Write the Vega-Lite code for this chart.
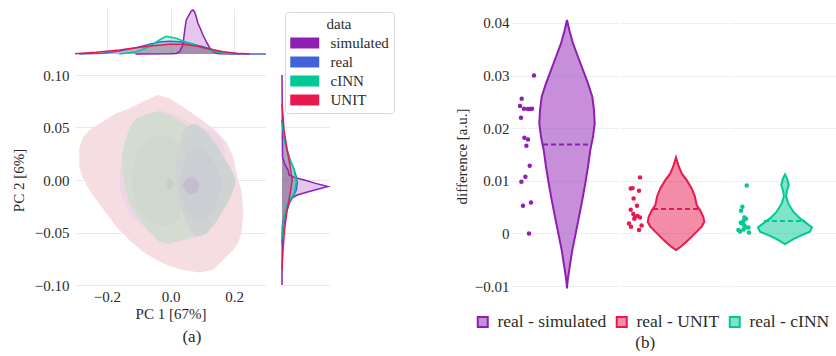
{
  "$schema": "https://vega.github.io/schema/vega-lite/v6.json",
  "padding": {"left": 11, "top": 6, "right": 0, "bottom": 0},
  "background": "white",
  "config": {
    "view": {"stroke": null},
    "font": "Liberation Serif",
    "axis": {"labelFont": "Liberation Serif", "titleFont": "Liberation Serif", "labelColor": "#2b2b2b", "titleColor": "#2b2b2b", "titleFontWeight": "normal", "labelFontSize": 15, "titleFontSize": 15, "ticks": false, "domain": false},
    "legend": {"labelFont": "Liberation Serif", "titleFont": "Liberation Serif", "labelColor": "#2b2b2b", "titleColor": "#2b2b2b", "titleFontWeight": "normal"},
    "title": {"font": "Liberation Serif", "fontWeight": "normal", "color": "#2b2b2b", "fontSize": 17}
  },
  "datasets": {
    "topm": [
      {"data": "simulated", "x": -0.11, "d": 0},
      {"data": "simulated", "x": 0.0, "d": 0.3},
      {"data": "simulated", "x": 0.0179, "d": 0.5},
      {"data": "simulated", "x": 0.0284, "d": 2.3},
      {"data": "simulated", "x": 0.0389, "d": 9},
      {"data": "simulated", "x": 0.0441, "d": 22.3},
      {"data": "simulated", "x": 0.0494, "d": 34},
      {"data": "simulated", "x": 0.0578, "d": 39},
      {"data": "simulated", "x": 0.0651, "d": 43},
      {"data": "simulated", "x": 0.0704, "d": 44},
      {"data": "simulated", "x": 0.0756, "d": 42.3},
      {"data": "simulated", "x": 0.0809, "d": 37.3},
      {"data": "simulated", "x": 0.0861, "d": 30.7},
      {"data": "simulated", "x": 0.0935, "d": 25.7},
      {"data": "simulated", "x": 0.1019, "d": 19},
      {"data": "simulated", "x": 0.1124, "d": 12.3},
      {"data": "simulated", "x": 0.1229, "d": 6.3},
      {"data": "simulated", "x": 0.1334, "d": 2.3},
      {"data": "simulated", "x": 0.1439, "d": 0.7},
      {"data": "simulated", "x": 0.1544, "d": 0.3},
      {"data": "simulated", "x": 0.22, "d": 0},
      {"data": "real", "x": -0.2867, "d": 0},
      {"data": "real", "x": -0.2132, "d": 0.7},
      {"data": "real", "x": -0.1607, "d": 3},
      {"data": "real", "x": -0.1082, "d": 6.3},
      {"data": "real", "x": -0.0662, "d": 9.7},
      {"data": "real", "x": -0.0347, "d": 12},
      {"data": "real", "x": -0.0032, "d": 12.7},
      {"data": "real", "x": 0.0284, "d": 12.3},
      {"data": "real", "x": 0.0599, "d": 10.7},
      {"data": "real", "x": 0.1019, "d": 7.3},
      {"data": "real", "x": 0.1439, "d": 3.3},
      {"data": "real", "x": 0.1859, "d": 0.7},
      {"data": "real", "x": 0.2279, "d": 0.1},
      {"data": "real", "x": 0.3, "d": 0},
      {"data": "cINN", "x": -0.1607, "d": 0},
      {"data": "cINN", "x": -0.1082, "d": 2.3},
      {"data": "cINN", "x": -0.0662, "d": 7.3},
      {"data": "cINN", "x": -0.0347, "d": 14},
      {"data": "cINN", "x": -0.0137, "d": 17.7},
      {"data": "cINN", "x": -0.0032, "d": 17},
      {"data": "cINN", "x": 0.0179, "d": 15.7},
      {"data": "cINN", "x": 0.0389, "d": 13},
      {"data": "cINN", "x": 0.0704, "d": 9.7},
      {"data": "cINN", "x": 0.1019, "d": 6.3},
      {"data": "cINN", "x": 0.1334, "d": 3},
      {"data": "cINN", "x": 0.1649, "d": 0.7},
      {"data": "cINN", "x": 0.1964, "d": 0},
      {"data": "UNIT", "x": -0.3, "d": 0.3},
      {"data": "UNIT", "x": -0.2342, "d": 1.7},
      {"data": "UNIT", "x": -0.1607, "d": 4},
      {"data": "UNIT", "x": -0.1082, "d": 6.3},
      {"data": "UNIT", "x": -0.0557, "d": 8.3},
      {"data": "UNIT", "x": -0.0032, "d": 9.7},
      {"data": "UNIT", "x": 0.0389, "d": 9.7},
      {"data": "UNIT", "x": 0.0809, "d": 8},
      {"data": "UNIT", "x": 0.1229, "d": 5},
      {"data": "UNIT", "x": 0.1649, "d": 2.3},
      {"data": "UNIT", "x": 0.2069, "d": 0.7},
      {"data": "UNIT", "x": 0.2489, "d": 0}
    ],
    "rightm": [
      {"data": "simulated", "y": -0.1, "d": 0},
      {"data": "simulated", "y": -0.0444, "d": 0.3},
      {"data": "simulated", "y": -0.0349, "d": 2},
      {"data": "simulated", "y": -0.0286, "d": 5},
      {"data": "simulated", "y": -0.0222, "d": 7},
      {"data": "simulated", "y": -0.0175, "d": 9},
      {"data": "simulated", "y": -0.0143, "d": 15},
      {"data": "simulated", "y": -0.0114, "d": 25},
      {"data": "simulated", "y": -0.0089, "d": 35},
      {"data": "simulated", "y": -0.0063, "d": 45},
      {"data": "simulated", "y": -0.0032, "d": 33},
      {"data": "simulated", "y": 0.0, "d": 22},
      {"data": "simulated", "y": 0.0025, "d": 12},
      {"data": "simulated", "y": 0.0048, "d": 7},
      {"data": "simulated", "y": 0.0095, "d": 6},
      {"data": "simulated", "y": 0.0143, "d": 3},
      {"data": "simulated", "y": 0.0222, "d": 0.5},
      {"data": "simulated", "y": 0.1, "d": 0},
      {"data": "real", "y": -0.0603, "d": 0},
      {"data": "real", "y": -0.0444, "d": 1.5},
      {"data": "real", "y": -0.0317, "d": 4},
      {"data": "real", "y": -0.0222, "d": 7},
      {"data": "real", "y": -0.0159, "d": 11},
      {"data": "real", "y": -0.0095, "d": 14},
      {"data": "real", "y": -0.0032, "d": 15},
      {"data": "real", "y": 0.0032, "d": 14},
      {"data": "real", "y": 0.0095, "d": 12},
      {"data": "real", "y": 0.019, "d": 8},
      {"data": "real", "y": 0.0286, "d": 5},
      {"data": "real", "y": 0.0413, "d": 2},
      {"data": "real", "y": 0.0571, "d": 0},
      {"data": "cINN", "y": -0.054, "d": 0},
      {"data": "cINN", "y": -0.0381, "d": 1.5},
      {"data": "cINN", "y": -0.0254, "d": 4},
      {"data": "cINN", "y": -0.019, "d": 8},
      {"data": "cINN", "y": -0.0127, "d": 12},
      {"data": "cINN", "y": -0.0016, "d": 14},
      {"data": "cINN", "y": 0.0095, "d": 12},
      {"data": "cINN", "y": 0.019, "d": 8},
      {"data": "cINN", "y": 0.0349, "d": 3},
      {"data": "cINN", "y": 0.054, "d": 0},
      {"data": "UNIT", "y": -0.0857, "d": 0},
      {"data": "UNIT", "y": -0.0666, "d": 1},
      {"data": "UNIT", "y": -0.0476, "d": 2.5},
      {"data": "UNIT", "y": -0.0286, "d": 5},
      {"data": "UNIT", "y": -0.0127, "d": 8},
      {"data": "UNIT", "y": 0.0, "d": 10},
      {"data": "UNIT", "y": 0.0127, "d": 8},
      {"data": "UNIT", "y": 0.0286, "d": 5},
      {"data": "UNIT", "y": 0.0476, "d": 2},
      {"data": "UNIT", "y": 0.073, "d": 0}
    ],
    "bUNIT": [
      {"x": -0.2867, "lo": 0.0127, "hi": 0.0302},
      {"x": -0.2762, "lo": 0.0032, "hi": 0.0397},
      {"x": -0.2552, "lo": -0.0095, "hi": 0.0476},
      {"x": -0.2132, "lo": -0.027, "hi": 0.0555},
      {"x": -0.1712, "lo": -0.0444, "hi": 0.0635},
      {"x": -0.1292, "lo": -0.0571, "hi": 0.0682},
      {"x": -0.0872, "lo": -0.0682, "hi": 0.0746},
      {"x": -0.0399, "lo": -0.0768, "hi": 0.0809},
      {"x": -0.0032, "lo": -0.0819, "hi": 0.0778},
      {"x": 0.0388, "lo": -0.0857, "hi": 0.0698},
      {"x": 0.0914, "lo": -0.0882, "hi": 0.0587},
      {"x": 0.1334, "lo": -0.0857, "hi": 0.0492},
      {"x": 0.1754, "lo": -0.073, "hi": 0.0365},
      {"x": 0.1964, "lo": -0.0666, "hi": 0.0222},
      {"x": 0.2121, "lo": -0.0603, "hi": 0.0},
      {"x": 0.2226, "lo": -0.0508, "hi": -0.0095},
      {"x": 0.2278, "lo": -0.0349, "hi": -0.0286}
    ],
    "bSIM": [
      {"x": -0.1585, "lo": -0.0095, "hi": 0.0095},
      {"x": -0.1449, "lo": -0.0222, "hi": 0.0349},
      {"x": -0.1239, "lo": -0.0349, "hi": 0.0508},
      {"x": -0.0872, "lo": -0.0444, "hi": 0.0603},
      {"x": -0.0347, "lo": -0.054, "hi": 0.0666},
      {"x": 0.0179, "lo": -0.0587, "hi": 0.0619},
      {"x": 0.0599, "lo": -0.0571, "hi": 0.054},
      {"x": 0.1019, "lo": -0.0524, "hi": 0.0501},
      {"x": 0.1439, "lo": -0.0349, "hi": 0.0444},
      {"x": 0.1649, "lo": -0.0095, "hi": 0.0349},
      {"x": 0.1712, "lo": 0.0127, "hi": 0.0254}
    ],
    "bGREEN": [
      {"x": -0.1522, "lo": 0.0095, "hi": 0.0222},
      {"x": -0.1449, "lo": -0.0032, "hi": 0.0349},
      {"x": -0.1292, "lo": -0.0222, "hi": 0.0492},
      {"x": -0.1082, "lo": -0.0333, "hi": 0.0587},
      {"x": -0.0662, "lo": -0.0492, "hi": 0.0635},
      {"x": -0.0347, "lo": -0.0587, "hi": 0.0651},
      {"x": -0.0032, "lo": -0.0609, "hi": 0.0619},
      {"x": 0.0284, "lo": -0.0578, "hi": 0.0555},
      {"x": 0.0599, "lo": -0.054, "hi": 0.0508},
      {"x": 0.1019, "lo": -0.0524, "hi": 0.0428},
      {"x": 0.1334, "lo": -0.0428, "hi": 0.0333},
      {"x": 0.1649, "lo": -0.0302, "hi": 0.0222},
      {"x": 0.1859, "lo": -0.019, "hi": 0.0127},
      {"x": 0.2037, "lo": -0.0048, "hi": 0.0016}
    ],
    "bGREEN2": [
      {"x": -0.12, "lo": -0.01, "hi": 0.005},
      {"x": -0.105, "lo": -0.025, "hi": 0.027},
      {"x": -0.08, "lo": -0.036, "hi": 0.037},
      {"x": -0.05, "lo": -0.042, "hi": 0.042},
      {"x": -0.02, "lo": -0.044, "hi": 0.043},
      {"x": 0.01, "lo": -0.042, "hi": 0.04},
      {"x": 0.03, "lo": -0.035, "hi": 0.03},
      {"x": 0.04, "lo": -0.015, "hi": 0.01}
    ],
    "bGREY": [
      {"x": 0.0126, "lo": 0.0063, "hi": 0.0127},
      {"x": 0.0231, "lo": -0.0127, "hi": 0.0286},
      {"x": 0.0388, "lo": -0.0317, "hi": 0.046},
      {"x": 0.0599, "lo": -0.0476, "hi": 0.0524},
      {"x": 0.0809, "lo": -0.054, "hi": 0.0533},
      {"x": 0.1124, "lo": -0.0514, "hi": 0.046},
      {"x": 0.1439, "lo": -0.0397, "hi": 0.0333},
      {"x": 0.1754, "lo": -0.0222, "hi": 0.0175},
      {"x": 0.1964, "lo": -0.0095, "hi": 0.0063},
      {"x": 0.2037, "lo": -0.0032, "hi": 0.0}
    ],
    "bGREY2": [
      {"x": 0.03, "lo": -0.01, "hi": 0.0},
      {"x": 0.05, "lo": -0.03, "hi": 0.025},
      {"x": 0.08, "lo": -0.04, "hi": 0.032},
      {"x": 0.11, "lo": -0.038, "hi": 0.028},
      {"x": 0.14, "lo": -0.025, "hi": 0.015},
      {"x": 0.16, "lo": -0.008, "hi": 0.0}
    ],
    "bSPOTP": [
      {"x": 0.04, "lo": -0.006, "hi": -0.004},
      {"x": 0.05, "lo": -0.011, "hi": 0.001},
      {"x": 0.065, "lo": -0.014, "hi": 0.003},
      {"x": 0.08, "lo": -0.012, "hi": 0.001},
      {"x": 0.09, "lo": -0.008, "hi": -0.003}
    ],
    "bSPOTG": [
      {"x": -0.012, "lo": -0.006, "hi": -0.002},
      {"x": -0.005, "lo": -0.009, "hi": 0.002},
      {"x": 0.003, "lo": -0.008, "hi": 0.001},
      {"x": 0.01, "lo": -0.005, "hi": -0.002}
    ],
    "viol": [
      {"k": "v", "g": "real - simulated", "y": 0.04055, "lo": 0, "hi": 0},
      {"k": "v", "g": "real - simulated", "y": 0.03865, "lo": -2.3, "hi": 2.3},
      {"k": "v", "g": "real - simulated", "y": 0.03612, "lo": -6, "hi": 6},
      {"k": "v", "g": "real - simulated", "y": 0.03358, "lo": -11, "hi": 11},
      {"k": "v", "g": "real - simulated", "y": 0.03105, "lo": -16, "hi": 16},
      {"k": "v", "g": "real - simulated", "y": 0.02852, "lo": -21, "hi": 21},
      {"k": "v", "g": "real - simulated", "y": 0.02598, "lo": -25.3, "hi": 25.3},
      {"k": "v", "g": "real - simulated", "y": 0.02344, "lo": -27, "hi": 27},
      {"k": "v", "g": "real - simulated", "y": 0.02091, "lo": -27.7, "hi": 27.7},
      {"k": "v", "g": "real - simulated", "y": 0.01837, "lo": -26, "hi": 26},
      {"k": "v", "g": "real - simulated", "y": 0.01584, "lo": -23.3, "hi": 23.3},
      {"k": "v", "g": "real - simulated", "y": 0.01267, "lo": -21, "hi": 21},
      {"k": "v", "g": "real - simulated", "y": 0.00951, "lo": -18.3, "hi": 18.3},
      {"k": "v", "g": "real - simulated", "y": 0.00634, "lo": -15.3, "hi": 15.3},
      {"k": "v", "g": "real - simulated", "y": 0.00317, "lo": -12, "hi": 12},
      {"k": "v", "g": "real - simulated", "y": 0.0, "lo": -8.7, "hi": 8.7},
      {"k": "v", "g": "real - simulated", "y": -0.00317, "lo": -5.3, "hi": 5.3},
      {"k": "v", "g": "real - simulated", "y": -0.00634, "lo": -2.7, "hi": 2.7},
      {"k": "v", "g": "real - simulated", "y": -0.00888, "lo": -0.7, "hi": 0.7},
      {"k": "v", "g": "real - simulated", "y": -0.01046, "lo": 0, "hi": 0},
      {"k": "v", "g": "real - UNIT", "y": 0.01445, "lo": 0, "hi": 0},
      {"k": "v", "g": "real - UNIT", "y": 0.01299, "lo": -2.3, "hi": 2.3},
      {"k": "v", "g": "real - UNIT", "y": 0.01141, "lo": -5.7, "hi": 5.7},
      {"k": "v", "g": "real - UNIT", "y": 0.01013, "lo": -10.7, "hi": 10.7},
      {"k": "v", "g": "real - UNIT", "y": 0.00855, "lo": -15.7, "hi": 15.7},
      {"k": "v", "g": "real - UNIT", "y": 0.00697, "lo": -19, "hi": 19},
      {"k": "v", "g": "real - UNIT", "y": 0.00538, "lo": -20.7, "hi": 20.7},
      {"k": "v", "g": "real - UNIT", "y": 0.00443, "lo": -24, "hi": 24},
      {"k": "v", "g": "real - UNIT", "y": 0.00317, "lo": -27.3, "hi": 27.3},
      {"k": "v", "g": "real - UNIT", "y": 0.00222, "lo": -28.3, "hi": 28.3},
      {"k": "v", "g": "real - UNIT", "y": 0.00127, "lo": -25.7, "hi": 25.7},
      {"k": "v", "g": "real - UNIT", "y": 0.0, "lo": -19, "hi": 19},
      {"k": "v", "g": "real - UNIT", "y": -0.00127, "lo": -12.3, "hi": 12.3},
      {"k": "v", "g": "real - UNIT", "y": -0.00241, "lo": -5.7, "hi": 5.7},
      {"k": "v", "g": "real - UNIT", "y": -0.00317, "lo": 0, "hi": 0},
      {"k": "v", "g": "real - cINN", "y": 0.01122, "lo": 0, "hi": 0},
      {"k": "v", "g": "real - cINN", "y": 0.01046, "lo": -2, "hi": 2},
      {"k": "v", "g": "real - cINN", "y": 0.00919, "lo": -3.7, "hi": 3.7},
      {"k": "v", "g": "real - cINN", "y": 0.00792, "lo": -1.7, "hi": 1.7},
      {"k": "v", "g": "real - cINN", "y": 0.00697, "lo": -1.2, "hi": 1.2},
      {"k": "v", "g": "real - cINN", "y": 0.0057, "lo": -3.3, "hi": 3.3},
      {"k": "v", "g": "real - cINN", "y": 0.00412, "lo": -8.3, "hi": 8.3},
      {"k": "v", "g": "real - cINN", "y": 0.00285, "lo": -15, "hi": 15},
      {"k": "v", "g": "real - cINN", "y": 0.0019, "lo": -21.7, "hi": 21.7},
      {"k": "v", "g": "real - cINN", "y": 0.00114, "lo": -27, "hi": 27},
      {"k": "v", "g": "real - cINN", "y": 0.00032, "lo": -25, "hi": 25},
      {"k": "v", "g": "real - cINN", "y": -0.00032, "lo": -16.7, "hi": 16.7},
      {"k": "v", "g": "real - cINN", "y": -0.00108, "lo": -8.3, "hi": 8.3},
      {"k": "v", "g": "real - cINN", "y": -0.00203, "lo": 0, "hi": 0},
      {"k": "m", "g": "real - simulated", "y": 0.01692, "lo": -24, "hi": 24},
      {"k": "m", "g": "real - UNIT", "y": 0.00462, "lo": -23, "hi": 23},
      {"k": "m", "g": "real - cINN", "y": 0.00234, "lo": -21, "hi": 20},
      {"k": "p", "g": "real - simulated", "off": -33, "y": 0.03003},
      {"k": "p", "g": "real - simulated", "off": -45.3, "y": 0.0256},
      {"k": "p", "g": "real - simulated", "off": -47, "y": 0.02421},
      {"k": "p", "g": "real - simulated", "off": -43, "y": 0.0237},
      {"k": "p", "g": "real - simulated", "off": -39, "y": 0.02364},
      {"k": "p", "g": "real - simulated", "off": -37, "y": 0.02364},
      {"k": "p", "g": "real - simulated", "off": -35, "y": 0.0237},
      {"k": "p", "g": "real - simulated", "off": -46, "y": 0.02199},
      {"k": "p", "g": "real - simulated", "off": -42.6, "y": 0.01819},
      {"k": "p", "g": "real - simulated", "off": -39, "y": 0.01787},
      {"k": "p", "g": "real - simulated", "off": -40.6, "y": 0.01666},
      {"k": "p", "g": "real - simulated", "off": -37.3, "y": 0.01286},
      {"k": "p", "g": "real - simulated", "off": -41.6, "y": 0.01077},
      {"k": "p", "g": "real - simulated", "off": -45.6, "y": 0.00982},
      {"k": "p", "g": "real - simulated", "off": -44, "y": 0.00526},
      {"k": "p", "g": "real - simulated", "off": -36, "y": 0.00589},
      {"k": "p", "g": "real - simulated", "off": -38, "y": 0.0},
      {"k": "p", "g": "real - UNIT", "off": -36, "y": 0.01065},
      {"k": "p", "g": "real - UNIT", "off": -45.3, "y": 0.00855},
      {"k": "p", "g": "real - UNIT", "off": -43.4, "y": 0.00861},
      {"k": "p", "g": "real - UNIT", "off": -37, "y": 0.00811},
      {"k": "p", "g": "real - UNIT", "off": -42.4, "y": 0.00665},
      {"k": "p", "g": "real - UNIT", "off": -39, "y": 0.00525},
      {"k": "p", "g": "real - UNIT", "off": -45.3, "y": 0.00449},
      {"k": "p", "g": "real - UNIT", "off": -42.7, "y": 0.00367},
      {"k": "p", "g": "real - UNIT", "off": -41, "y": 0.00317},
      {"k": "p", "g": "real - UNIT", "off": -38.4, "y": 0.00329},
      {"k": "p", "g": "real - UNIT", "off": -36, "y": 0.00304},
      {"k": "p", "g": "real - UNIT", "off": -41.7, "y": 0.00278},
      {"k": "p", "g": "real - UNIT", "off": -47, "y": 0.0019},
      {"k": "p", "g": "real - UNIT", "off": -45, "y": 0.00127},
      {"k": "p", "g": "real - UNIT", "off": -34.4, "y": 0.00152},
      {"k": "p", "g": "real - UNIT", "off": -37, "y": 0.00063},
      {"k": "p", "g": "real - cINN", "off": -38.3, "y": 0.00912},
      {"k": "p", "g": "real - cINN", "off": -42.6, "y": 0.00507},
      {"k": "p", "g": "real - cINN", "off": -44, "y": 0.0043},
      {"k": "p", "g": "real - cINN", "off": -40.6, "y": 0.00304},
      {"k": "p", "g": "real - cINN", "off": -39, "y": 0.00278},
      {"k": "p", "g": "real - cINN", "off": -41.6, "y": 0.00234},
      {"k": "p", "g": "real - cINN", "off": -44.3, "y": 0.00202},
      {"k": "p", "g": "real - cINN", "off": -42.3, "y": 0.0019},
      {"k": "p", "g": "real - cINN", "off": -39.3, "y": 0.00114},
      {"k": "p", "g": "real - cINN", "off": -41.6, "y": 0.00076},
      {"k": "p", "g": "real - cINN", "off": -36.6, "y": 0.00114},
      {"k": "p", "g": "real - cINN", "off": -46.6, "y": 0.00063},
      {"k": "p", "g": "real - cINN", "off": -45, "y": 0.00038},
      {"k": "p", "g": "real - cINN", "off": -36, "y": 0.00019},
      {"k": "p", "g": "real - cINN", "off": -40.6, "y": 0.00152}
    ]
  },
  "hconcat": [
    {
      "columns": 2,
      "spacing": {"row": 11, "column": 10},
      "title": {"text": "(a)", "orient": "bottom", "offset": 8, "anchor": "middle", "dx": -11},
      "concat": [
        {
          "width": 191, "height": 46,
          "data": {"name": "topm"},
          "layer": [
            {
              "mark": {"type": "area", "fillOpacity": 0.25},
              "encoding": {
                "x": {"field": "x", "type": "quantitative", "scale": {"domain": [-0.3, 0.3], "nice": false, "zero": false}, "axis": {"grid": true, "labels": false, "title": null, "values": [-0.2, 0, 0.2], "gridColor": "#e6e8f3"}},
                "y": {"field": "d", "type": "quantitative", "stack": null, "scale": {"domain": [0, 46], "nice": false}, "axis": null},
                "color": {"field": "data", "type": "nominal", "scale": {"domain": ["simulated", "real", "cINN", "UNIT"], "range": ["#8f1fb3", "#4262d9", "#00c994", "#e8194e"]},
                  "legend": {"title": "data", "orient": "none", "legendX": 210, "legendY": 4, "symbolType": "M-1,-0.564H1.974V0.564H-1Z", "symbolSize": 380, "symbolStrokeWidth": 0, "labelFontSize": 15, "titleFontSize": 15, "labelOffset": 20.5, "padding": 5, "rowPadding": 1, "titleAnchor": "middle", "titlePadding": 1, "strokeColor": "#d8d8d8", "fillColor": "white", "cornerRadius": 3,
                    "encode": {"symbols": {"update": {"fillOpacity": {"value": 1}, "opacity": {"value": 1}}}}}}
              }
            },
            {
              "mark": {"type": "line", "strokeWidth": 1.5},
              "encoding": {
                "x": {"field": "x", "type": "quantitative"},
                "y": {"field": "d", "type": "quantitative", "stack": null},
                "color": {"field": "data", "type": "nominal", "legend": null}
              }
            }
          ]
        },
        {
          "width": 48, "height": 46,
          "data": {"values": []},
          "mark": "point"
        },
        {
          "width": 191, "height": 210,
          "encoding": {
            "x": {"field": "x", "type": "quantitative", "scale": {"domain": [-0.3, 0.3], "nice": false, "zero": false}, "axis": {"title": "PC 1 [67%]", "values": [-0.2, 0, 0.2], "format": ".1f", "grid": false, "labelPadding": 4, "titlePadding": 2}},
            "y": {"field": "lo", "type": "quantitative", "scale": {"domain": [-0.1, 0.1], "nice": false, "zero": false}, "axis": {"title": "PC 2 [6%]", "values": [-0.1, -0.05, 0, 0.05, 0.1], "format": ".2f", "grid": true, "gridColor": "#e6e8f3", "labelPadding": 6, "titlePadding": 8}},
            "y2": {"field": "hi"}
          },
          "layer": [
            {"data": {"name": "bUNIT"}, "mark": {"type": "area", "color": "#f6dde2"}},
            {"data": {"name": "bSIM"}, "mark": {"type": "area", "color": "#edd6e6"}},
            {"data": {"name": "bGREEN"}, "mark": {"type": "area", "color": "#d4dcd2"}},
            {"data": {"name": "bGREEN2"}, "mark": {"type": "area", "color": "#d0d8ce"}},
            {"data": {"name": "bGREY"}, "mark": {"type": "area", "color": "#cfd3d3"}},
            {"data": {"name": "bGREY2"}, "mark": {"type": "area", "color": "#cbced2"}},
            {"data": {"name": "bSPOTG"}, "mark": {"type": "area", "color": "#c5d0c9"}},
            {"data": {"name": "bSPOTP"}, "mark": {"type": "area", "color": "#c6bccd"}}
          ]
        },
        {
          "width": 48, "height": 210,
          "data": {"name": "rightm"},
          "layer": [
            {
              "mark": {"type": "area", "orient": "horizontal", "fillOpacity": 0.25},
              "encoding": {
                "y": {"field": "y", "type": "quantitative", "scale": {"domain": [-0.1, 0.1], "nice": false, "zero": false}, "axis": {"grid": true, "labels": false, "title": null, "values": [-0.1, -0.05, 0, 0.05, 0.1], "gridColor": "#e6e8f3"}},
                "x": {"field": "d", "type": "quantitative", "stack": null, "scale": {"domain": [0, 47], "nice": false}, "axis": null},
                "color": {"field": "data", "type": "nominal", "legend": null}
              }
            },
            {
              "mark": {"type": "line", "strokeWidth": 1.5},
              "encoding": {
                "y": {"field": "y", "type": "quantitative"},
                "x": {"field": "d", "type": "quantitative", "stack": null},
                "order": {"field": "y", "type": "quantitative"},
                "color": {"field": "data", "type": "nominal", "legend": null}
              }
            }
          ]
        }
      ]
    },
    {
      "data": {"name": "viol"},
      "title": {"text": "(b)", "orient": "bottom", "offset": 4, "anchor": "middle"},
      "spacing": 2,
      "facet": {"column": {"field": "g", "type": "nominal", "sort": ["real - simulated", "real - UNIT", "real - cINN"], "header": {"title": null, "labels": false}}},
      "spec": {
        "width": 107, "height": 296,
        "encoding": {
          "y": {"field": "y", "type": "quantitative", "scale": {"domain": [-0.01342, 0.04285], "nice": false, "zero": false}, "axis": {"title": "difference [a.u.]", "values": [-0.01, 0, 0.01, 0.02, 0.03, 0.04], "format": ".2~f", "grid": true, "gridColor": "#ebf0f8", "labelPadding": 2, "titlePadding": 5}}
        },
        "layer": [
          {
            "transform": [{"filter": "datum.k == 'v'"}],
            "mark": {"type": "area", "orient": "horizontal", "fillOpacity": 0.5, "strokeWidth": 2},
            "encoding": {
              "x": {"field": "lo", "type": "quantitative", "scale": {"domain": [-56, 51], "nice": false, "zero": false}, "axis": null},
              "x2": {"field": "hi"},
              "fill": {"field": "g", "type": "nominal", "scale": {"domain": ["real - simulated", "real - UNIT", "real - cINN"], "range": ["#8f1fb3", "#e8194e", "#00c994"]},
                "legend": {"title": null, "orient": "none", "direction": "horizontal", "legendX": -37, "legendY": 305, "symbolType": "square", "symbolSize": 100, "symbolStrokeWidth": 2, "labelFontSize": 17.5, "labelOffset": 6, "columnPadding": 5, "encode": {"symbols": {"update": {"fillOpacity": {"value": 0.5}}}}}},
              "stroke": {"field": "g", "type": "nominal", "scale": {"domain": ["real - simulated", "real - UNIT", "real - cINN"], "range": ["#8f1fb3", "#e8194e", "#00c994"]},
                "legend": {"title": null, "orient": "none", "direction": "horizontal", "legendX": -37, "legendY": 305, "symbolType": "square", "symbolSize": 100, "symbolStrokeWidth": 2, "labelFontSize": 17.5, "labelOffset": 6, "columnPadding": 5, "encode": {"symbols": {"update": {"fillOpacity": {"value": 0.5}}}}}}
            }
          },
          {
            "transform": [{"filter": "datum.k == 'm'"}],
            "mark": {"type": "rule", "strokeWidth": 2, "strokeDash": [5, 3]},
            "encoding": {
              "x": {"field": "lo", "type": "quantitative"},
              "x2": {"field": "hi"},
              "stroke": {"field": "g", "type": "nominal"}
            }
          },
          {
            "transform": [{"filter": "datum.k == 'p'"}],
            "mark": {"type": "circle", "size": 20, "opacity": 1},
            "encoding": {
              "x": {"field": "off", "type": "quantitative"},
              "fill": {"field": "g", "type": "nominal"}
            }
          }
        ]
      }
    }
  ],
  "spacing": 59,
  "resolve": {"scale": {"color": "independent", "fill": "independent", "stroke": "independent"}, "legend": {"color": "independent", "fill": "independent", "stroke": "independent"}}
}
